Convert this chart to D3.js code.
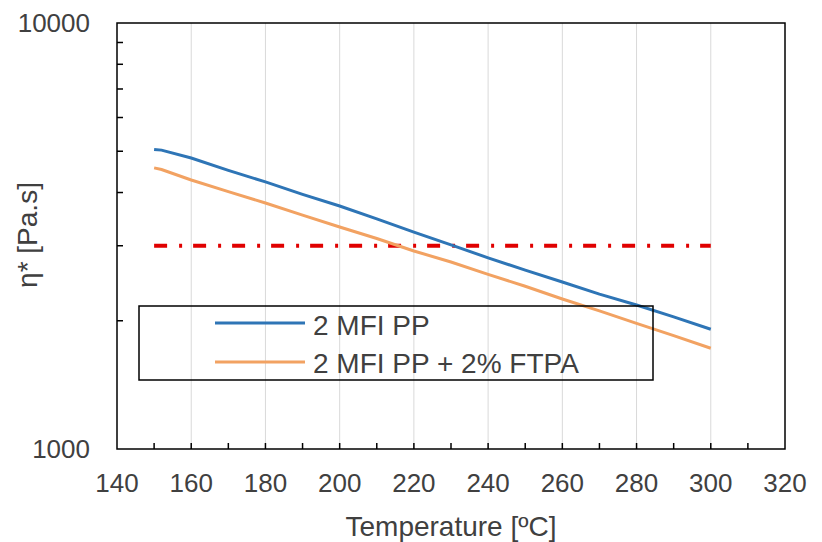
<!DOCTYPE html>
<html><head><meta charset="utf-8">
<script src="https://cdn.jsdelivr.net/npm/d3@7"></script>
<style>body{margin:0;background:#fff}svg{display:block}text{font-family:"Liberation Sans",Arial,sans-serif;fill:#404040}</style>
</head><body><svg id="c" width="822" height="542"></svg>
<script>
const temps = [150,152,160,170,180,190,200,210,220,230,240,250,260,270,280,290,300];
const ppValues = [5050,5030,4820,4510,4236,3960,3719,3470,3230,3015,2810,2630,2466,2310,2178,2043,1910];
const ftpaValues = [4570,4530,4280,4020,3780,3540,3320,3120,2916,2748,2570,2410,2250,2110,1972,1845,1724];
const seriesNames = ["2 MFI PP","2 MFI PP + 2% FTPA"];
const seriesColors = ["#2e75b6","#f2a262"];
const refTemps = [150,300];
const refValue = 3000;
const xTicks = [140,160,180,200,220,240,260,280,300,320];
const xMinorTicks = [150,160,170,180,190,200,210,220,230,240,250,260,270,280,290,300,310];
const yMinorTicks = [2000,3000,4000,5000,6000,7000,8000,9000];
const yLabels = [1000,10000];

const svg = d3.select("#c");
const L=117,T=23,R=785,B=449;
const x = d3.scaleLinear().domain([140,320]).range([L,R]);
const y = d3.scaleLog().domain([1000,10000]).range([B,T]);

// gridlines
svg.append("g").selectAll("line").data(xTicks.filter(d=>d>140&&d<320)).join("line")
  .attr("x1",d=>x(d)).attr("x2",d=>x(d)).attr("y1",T).attr("y2",B)
  .attr("stroke","#d9d9d9").attr("stroke-width",1);

// x minor ticks (inward)
svg.append("g").selectAll("line").data(xMinorTicks).join("line")
  .attr("x1",d=>x(d)).attr("x2",d=>x(d)).attr("y1",B).attr("y2",B-6)
  .attr("stroke","#000").attr("stroke-width",1.5);
// y minor ticks (inward)
svg.append("g").selectAll("line").data(yMinorTicks).join("line")
  .attr("x1",L).attr("x2",L+6).attr("y1",d=>y(d)).attr("y2",d=>y(d))
  .attr("stroke","#000").attr("stroke-width",1.5);

// frame
svg.append("rect").attr("x",L).attr("y",T).attr("width",R-L).attr("height",B-T)
  .attr("fill","none").attr("stroke","#000").attr("stroke-width",1.5);

// tick labels
svg.append("g").selectAll("text").data(xTicks).join("text")
  .attr("x",d=>x(d)).attr("y",B+43).attr("text-anchor","middle")
  .attr("font-size",26).text(d=>d);
svg.append("g").selectAll("text").data(yLabels).join("text")
  .attr("x",L-27).attr("y",d=>y(d)+9).attr("text-anchor","end")
  .attr("font-size",26).text(d=>d);

// axis titles
svg.append("text").attr("x",451).attr("y",536).attr("text-anchor","middle")
  .attr("font-size",28).text("Temperature [ºC]");
svg.append("text").attr("transform","translate(37,235) rotate(-90)")
  .attr("text-anchor","middle").attr("font-size",28).text("η* [Pa.s]");

// reference line
svg.append("line").attr("x1",x(refTemps[0])).attr("x2",x(refTemps[1]))
  .attr("y1",y(refValue)).attr("y2",y(refValue))
  .attr("stroke","#e00000").attr("stroke-width",4).attr("stroke-dasharray","13,12,3,11");

// series
const line = d3.line().x(d=>x(d[0])).y(d=>y(d[1]));
[ppValues,ftpaValues].forEach((vals,i)=>{
  svg.append("path").datum(temps.map((t,j)=>[t,vals[j]]))
    .attr("d",line).attr("fill","none").attr("stroke",seriesColors[i])
    .attr("stroke-width",3);
});

// legend
svg.append("rect").attr("x",139).attr("y",306).attr("width",514).attr("height",74)
  .attr("fill","none").attr("stroke","#000").attr("stroke-width",1.5);
seriesNames.forEach((n,i)=>{
  const ly = 323 + i*39;
  svg.append("line").attr("x1",215).attr("x2",305).attr("y1",ly).attr("y2",ly)
    .attr("stroke",seriesColors[i]).attr("stroke-width",3);
  svg.append("text").attr("x",313).attr("y",335 + i*38).attr("font-size",28).text(n);
});
</script></body></html>
